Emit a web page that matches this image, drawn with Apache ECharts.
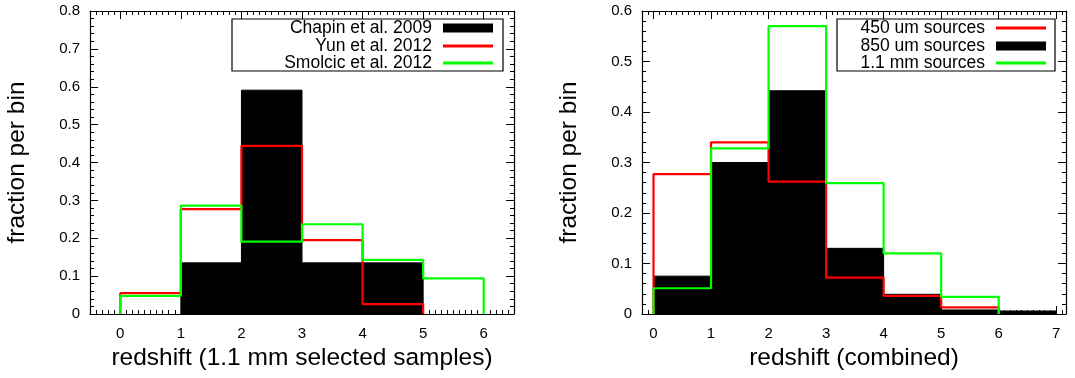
<!DOCTYPE html>
<html><head><meta charset="utf-8">
<script src="https://cdn.jsdelivr.net/npm/echarts@6/dist/echarts.min.js"></script>
<style>html,body{margin:0;padding:0;background:#fff}#c{width:1075px;height:378px}</style>
</head><body><div id="c"></div>
<script>
// ---- Left panel: 1.1 mm selected samples ----
const leftEdges = [0, 1, 2, 3, 4, 5, 6];
const chapin2009 = [0, 0.135, 0.591, 0.135, 0.135, 0];
const yun2012 = [0.055, 0.277, 0.444, 0.195, 0.026];
const smolcic2012 = [0.048, 0.286, 0.191, 0.237, 0.143, 0.094];
const leftXTicks = [0, 1, 2, 3, 4, 5, 6];
const leftYMax = 0.8;

// ---- Right panel: combined ----
const rightEdges = [0, 1, 2, 3, 4, 5, 6, 7];
const src450 = [0.277, 0.340, 0.262, 0.072, 0.036, 0.013];
const src850 = [0.075, 0.300, 0.442, 0.130, 0.039, 0.008, 0.006];
const src1100 = [0.051, 0.328, 0.570, 0.259, 0.120, 0.034];
const rightXTicks = [0, 1, 2, 3, 4, 5, 6, 7];
const rightYMax = 0.6;

const leftTitle = 'redshift (1.1 mm selected samples)';
const rightTitle = 'redshift (combined)';
const yTitle = 'fraction per bin';

const RED = '#ff0000', GREEN = '#00ff00', BLACK = '#000000';
const FONT = "'Liberation Sans', Arial, sans-serif";

function steps(edges, vals) {
  const pts = [[edges[0], 0]];
  vals.forEach((v, i) => { pts.push([edges[i], v]); pts.push([edges[i + 1], v]); });
  pts.push([edges[vals.length], 0]);
  return pts;
}
function bars(edges, vals) { return vals.map((v, i) => [edges[i], edges[i + 1], v]); }
function minorVals(min, max) {
  const out = [];
  for (let k = Math.ceil(min * 10); k <= Math.floor(max * 10); k++) if (k % 10 !== 0) out.push(k / 10);
  return out;
}

function xAxes(g, min, max, ticks, title) {
  const base = { type: 'value', gridIndex: g, min: min, max: max, splitLine: { show: false } };
  const lab = { fontFamily: FONT, fontSize: 15, color: '#000', margin: 12 };
  return [
    Object.assign({}, base, {
      position: 'bottom',
      axisLine: { show: true, onZero: false, lineStyle: { color: '#000', width: 1.2 } },
      axisTick: { show: true, inside: true, length: 8, customValues: ticks, lineStyle: { color: '#000' } },
      axisLabel: Object.assign({ customValues: ticks }, lab),
      name: title, nameLocation: 'middle', nameGap: 29,
      nameTextStyle: { fontFamily: FONT, fontSize: 24.5, color: '#000' }
    }),
    Object.assign({}, base, {
      position: 'bottom',
      axisLine: { show: false, onZero: false },
      axisTick: { show: true, inside: true, length: 4, customValues: minorVals(min, max), lineStyle: { color: '#000' } },
      axisLabel: { show: false }
    }),
    Object.assign({}, base, {
      position: 'top',
      axisLine: { show: true, onZero: false, lineStyle: { color: '#000', width: 1.2 } },
      axisTick: { show: true, inside: true, length: 8, customValues: ticks, lineStyle: { color: '#000' } },
      axisLabel: { show: false }
    }),
    Object.assign({}, base, {
      position: 'top',
      axisLine: { show: false, onZero: false },
      axisTick: { show: true, inside: true, length: 4, customValues: minorVals(min, max), lineStyle: { color: '#000' } },
      axisLabel: { show: false }
    })
  ];
}
function yAxes(g, max) {
  const base = {
    type: 'value', gridIndex: g, min: 0, max: max, interval: 0.1, splitLine: { show: false },
    axisLine: { show: true, onZero: false, lineStyle: { color: '#000', width: 1.2 } },
    axisTick: { show: true, inside: true, length: 8, lineStyle: { color: '#000' } },
    minorTick: { show: true, splitNumber: 5, length: 4, lineStyle: { color: '#000' } }
  };
  return [
    Object.assign({}, base, {
      position: 'left',
      axisLabel: { fontFamily: FONT, fontSize: 15, color: '#000', margin: 10 },
      name: yTitle, nameLocation: 'middle', nameGap: 60,
      nameTextStyle: { fontFamily: FONT, fontSize: 24.5, color: '#000' }
    }),
    Object.assign({}, base, { position: 'right', axisLabel: { show: false } })
  ];
}

function renderBar(params, api) {
  const p0 = api.coord([api.value(0), api.value(2)]);
  const p1 = api.coord([api.value(1), 0]);
  return { type: 'rect', shape: { x: p0[0], y: p0[1], width: p1[0] - p0[0], height: p1[1] - p0[1] },
    style: { fill: BLACK, stroke: BLACK, lineWidth: 1 } };
}
function barSeries(name, xi, yi, edges, vals) {
  return { name: name, type: 'custom', xAxisIndex: xi, yAxisIndex: yi, renderItem: renderBar,
    encode: { x: [0, 1], y: 2 }, data: bars(edges, vals).filter(d => d[2] > 0), itemStyle: { color: BLACK }, z: 2 };
}
function stepSeries(name, xi, yi, edges, vals, color, z) {
  return { name: name, type: 'line', xAxisIndex: xi, yAxisIndex: yi, data: steps(edges, vals),
    symbol: 'none', lineStyle: { color: color, width: 2.2 }, itemStyle: { color: color },
    animation: false, z: z };
}

function leg(name, right, top, h) {
  return {
    data: [{ name: name, icon: 'rect' }], orient: 'vertical', align: 'right',
    right: right, top: top, itemWidth: 50, itemHeight: h, padding: 0,
    textStyle: { fontFamily: FONT, fontSize: 17.5, color: '#000', padding: [0, 6, 0, 0] }
  };
}

const chart = echarts.init(document.getElementById('c'), null, { renderer: 'canvas' });
chart.setOption({
  animation: false,
  backgroundColor: '#fff',
  grid: [
    { left: 90, top: 11, width: 424, height: 303 },
    { left: 642, top: 11, width: 424, height: 303 }
  ],
  xAxis: [].concat(xAxes(0, -0.5, 6.5, leftXTicks, leftTitle), xAxes(1, -0.2, 7.17, rightXTicks, rightTitle)),
  yAxis: [].concat(yAxes(0, leftYMax), yAxes(1, rightYMax)),
  legend: [
    leg('Chapin et al. 2009', 582, 19, 9),
    leg('Yun et al. 2012', 582, 37, 3),
    leg('Smolcic et al. 2012', 582, 54, 3),
    leg('450 um sources', 29, 19, 3),
    leg('850 um sources', 29, 37, 9),
    leg('1.1 mm sources', 29, 54, 3)
  ],
  graphic: [
    { type: 'rect', shape: { x: 232, y: 19, width: 271, height: 52 }, style: { fill: 'none', stroke: '#000', lineWidth: 1.2 }, z: 10 },
    { type: 'rect', shape: { x: 837, y: 19, width: 218, height: 52 }, style: { fill: 'none', stroke: '#000', lineWidth: 1.2 }, z: 10 }
  ],
  series: [
    barSeries('Chapin et al. 2009', 0, 0, leftEdges, chapin2009),
    stepSeries('Yun et al. 2012', 0, 0, leftEdges, yun2012, RED, 3),
    stepSeries('Smolcic et al. 2012', 0, 0, leftEdges, smolcic2012, GREEN, 4),
    barSeries('850 um sources', 4, 2, rightEdges, src850),
    stepSeries('450 um sources', 4, 2, rightEdges, src450, RED, 3),
    stepSeries('1.1 mm sources', 4, 2, rightEdges, src1100, GREEN, 4)
  ]
});
</script></body></html>
